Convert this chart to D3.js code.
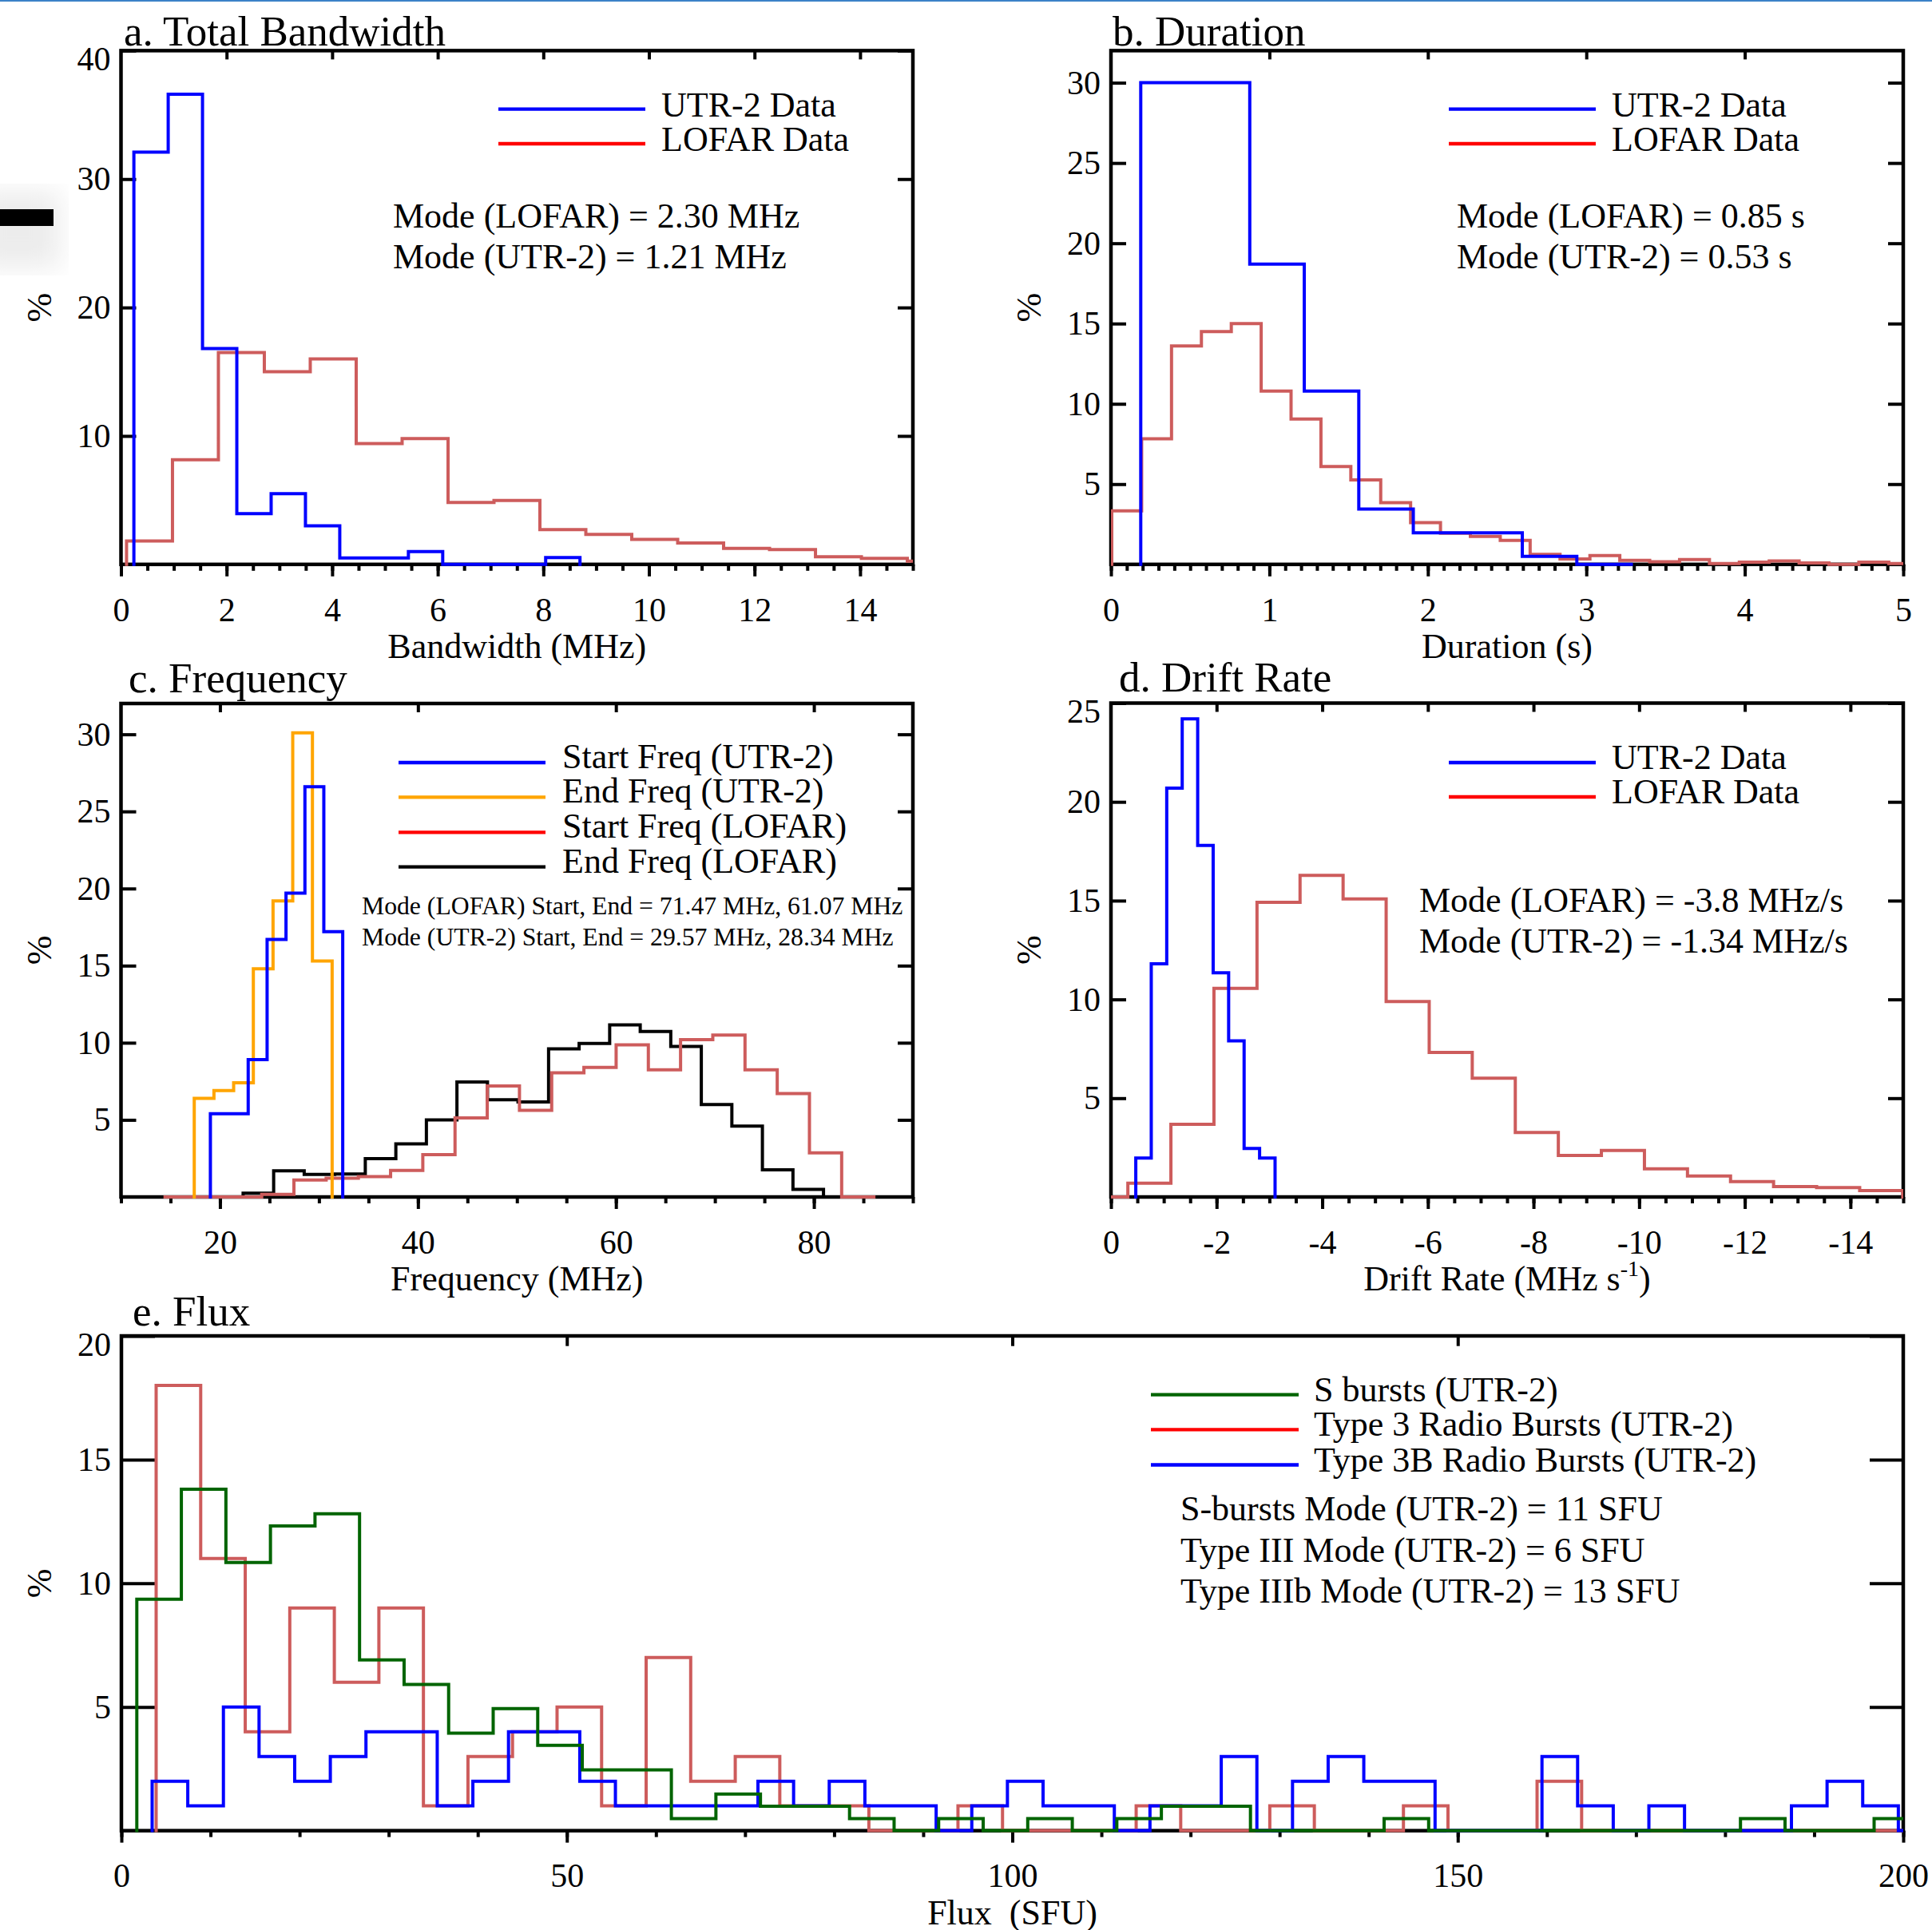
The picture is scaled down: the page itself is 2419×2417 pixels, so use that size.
<!DOCTYPE html>
<html>
<head>
<meta charset="utf-8">
<script src="https://cdn.jsdelivr.net/npm/d3@7"></script>
<style>
body { margin: 0; background: #fff; }
svg text { font-family: "Liberation Serif", "Times New Roman", serif; fill: #000; }
</style>
</head>
<body>
<svg id="chart" width="2419" height="2417"></svg>
<script>
// ---- a. Total Bandwidth (MHz) ----
const bwUtrStart = 0.244, bwUtrWidth = 0.65;
const bwUtr = [32.1, 36.6, 16.8, 3.95, 5.5, 3.0, 0.5, 0.5, 1.0, 0, 0, 0, 0.53];
const bwLofarStart = 0.105, bwLofarWidth = 0.87;
const bwLofar = [1.82, 8.15, 16.5, 15.0, 16.0, 9.4, 9.8, 4.82, 4.98, 2.7, 2.33, 1.94, 1.67, 1.25, 1.15, 0.59, 0.47, 0.25];
const bwXTicks = [0, 2, 4, 6, 8, 10, 12, 14];
const bwYTicks = [10, 20, 30, 40];

// ---- b. Duration (s) ----
const durUtrStart = 0.188, durUtrWidth = 0.344;
const durUtr = [30.0, 30.0, 18.7, 10.8, 3.45, 1.97, 1.97, 0.5, 0];
const durLofarStart = 0.005, durLofarWidth = 0.1886;
const durLofar = [3.33, 7.82, 13.6, 14.5, 15.0, 10.8, 9.05, 6.1, 5.26, 3.84, 2.6, 1.94, 1.74, 1.49, 0.63,
  0.34, 0.55, 0.25, 0.17, 0.3, 0.05, 0.14, 0.22, 0.09, 0.0, 0.14, 0.05];
const durXTicks = [0, 1, 2, 3, 4, 5];
const durYTicks = [5, 10, 15, 20, 25, 30];

// ---- c. Frequency (MHz) ----
const fqUtrStartStart = 19.03, fqUtrStartWidth = 1.91;
const fqUtrStart = [5.4, 5.4, 8.9, 16.7, 19.7, 26.6, 17.2];
const fqUtrEndStart = 17.4, fqUtrEndWidth = 1.99;
const fqUtrEnd = [6.4, 6.9, 7.4, 14.8, 19.2, 30.1, 15.3];
const fqLofarStartStart = 14.45, fqLofarStartWidth = 3.255;
const fqLofarStart = [0, 0, 0, 0.17, 1.1, 1.22, 1.32, 1.72, 2.75, 5.13, 7.2, 5.62, 8.05, 8.4, 9.86,
  8.24, 10.2, 10.5, 8.24, 6.7, 2.86, 0];
const fqLofarEndStart = 19.25, fqLofarEndWidth = 3.086;
const fqLofarEnd = [0, 0.24, 1.7, 1.46, 1.49, 2.48, 3.44, 5.0, 7.46, 6.3, 6.16, 9.6, 9.95, 11.16, 10.73,
  9.76, 6.0, 4.6, 1.76, 0.49];
const fqXTicks = [20, 40, 60, 80];
const fqYTicks = [5, 10, 15, 20, 25, 30];

// ---- d. Drift Rate (MHz/s) ----
const drUtrStart = -0.47, drUtrWidth = -0.293;
const drUtr = [1.97, 11.8, 20.7, 24.2, 17.8, 11.35, 7.9, 2.46, 1.97];
const drLofarStart = 0.495, drLofarWidth = -0.815;
const drLofar = [0, 0.7, 3.68, 10.56, 14.92, 16.28, 15.09, 9.89, 7.32, 6.01, 3.26, 2.1, 2.35, 1.42,
  1.06, 0.78, 0.53, 0.47, 0.32];
const drXTicks = [0, -2, -4, -6, -8, -10, -12, -14];
const drYTicks = [5, 10, 15, 20, 25];

// ---- e. Flux (SFU) ----
const fxSStart = 1.73, fxSWidth = 5;
const fxS = [9.36, 13.8, 10.84, 12.32, 12.81, 6.9, 5.91, 3.94, 4.93, 3.45, 2.46, 2.46, 0.49, 1.48,
  0.99, 0.99, 0.49, 0, 0.49, 0, 0.49, 0, 0.49, 0.99, 0.99, 0, 0, 0, 0.49, 0, 0, 0, 0, 0, 0, 0,
  0.49, 0, 0, 0.49];
const fxT3Start = 3.9, fxT3Width = 5;
const fxT3 = [18, 11, 4, 9, 6, 9, 1, 3, 4, 5, 1, 7, 2, 3, 1, 1, 0, 0, 1, 0, 0, 0, 1, 0, 0, 1, 0, 0,
  1, 0, 0, 2, 0, 0, 0, 0, 0, 0, 0, 0];
const fxT3bStart = 3.45, fxT3bWidth = 4;
const fxT3b = [2, 1, 5, 3, 2, 3, 4, 4, 1, 2, 4, 4, 2, 1, 1, 1, 1, 2, 1, 2, 1, 1, 0, 1, 2, 1, 1, 0, 1,
  1, 3, 0, 2, 3, 2, 2, 0, 0, 0, 3, 1, 0, 1, 0, 0, 0, 1, 2, 1, 0];
const fxXTicks = [0, 50, 100, 150, 200];
const fxYTicks = [5, 10, 15, 20];

const BLUE = "#0000ff", LRED = "#cd5c5c", RED = "#ff0000", ORANGE = "#ffa500", GREEN = "#006400";
const TXT = 44;

const svg = d3.select("#chart");
svg.append("rect").attr("width", 2419).attr("height", 2417).attr("fill", "#fff");

// scanning artefacts of the reference
const defs = svg.append("defs");
defs.append("filter").attr("id", "soft").append("feGaussianBlur").attr("stdDeviation", 16);
svg.append("rect").attr("x", -30).attr("y", 240).attr("width", 105).attr("height", 95)
  .attr("fill", "#ececec").attr("filter", "url(#soft)");
svg.append("rect").attr("x", 0).attr("y", 262).attr("width", 67).attr("height", 21).attr("fill", "#000");
svg.append("rect").attr("x", 0).attr("y", 0).attr("width", 2419).attr("height", 2).attr("fill", "#3b82c8");

function histPoints(start, width, values) {
  const pts = [[start, 0]];
  values.forEach((v, i) => {
    pts.push([start + i * width, v]);
    pts.push([start + (i + 1) * width, v]);
  });
  pts.push([start + values.length * width, 0]);
  return pts;
}

function drawPanel(p) {
  const x = d3.scaleLinear().domain(p.xDomain).range([p.left, p.right]);
  const y = d3.scaleLinear().domain([0, p.yMax]).range([p.bottom, p.top]);
  const g = svg.append("g");
  const font = '"Liberation Serif", "Times New Roman", serif';

  const styleAxis = (sel) => {
    sel.select(".domain").remove();
    sel.attr("font-size", 42).attr("font-family", font);
    sel.selectAll("line").attr("stroke", "#000").attr("stroke-width", 4);
    sel.selectAll("text").attr("fill", "#000");
  };

  // left
  g.append("g").attr("transform", `translate(${p.left},0)`)
    .call(d3.axisLeft(y).tickValues(p.yTicks).tickSize(-p.yTickLen).tickPadding(13).tickFormat(d => String(d)))
    .call(styleAxis)
    .selectAll("text").attr("transform", d => d === p.yMax ? "translate(0,11)" : null);
  // right
  g.append("g").attr("transform", `translate(${p.right},0)`)
    .call(d3.axisRight(y).tickValues(p.yTicks).tickSize(-p.yTickLen).tickFormat(""))
    .call(styleAxis);
  // bottom minor
  g.append("g").attr("transform", `translate(0,${p.bottom})`)
    .call(d3.axisBottom(x).tickValues(p.xMinor).tickSize(8).tickFormat(""))
    .call(styleAxis);
  // bottom major
  g.append("g").attr("transform", `translate(0,${p.bottom})`)
    .call(d3.axisBottom(x).tickValues(p.xTicks).tickSize(15).tickPadding(26).tickFormat(d => String(d)))
    .call(styleAxis);
  // top
  g.append("g").attr("transform", `translate(0,${p.top})`)
    .call(d3.axisTop(x).tickValues(p.xTop).tickSize(-p.topTickLen).tickFormat(""))
    .call(styleAxis);

  g.append("rect")
    .attr("x", p.left).attr("y", p.top)
    .attr("width", p.right - p.left).attr("height", p.bottom - p.top)
    .attr("fill", "none").attr("stroke", "#000").attr("stroke-width", 4.5);

  // histograms
  const clipId = "clip-" + p.id;
  defs.append("clipPath").attr("id", clipId).append("rect")
    .attr("x", p.left).attr("y", p.top - 3)
    .attr("width", p.right - p.left).attr("height", p.bottom - p.top + 6);
  const line = d3.line().x(d => x(d[0])).y(d => y(d[1]));
  const hg = g.append("g").attr("clip-path", `url(#${clipId})`);
  p.series.forEach(s => {
    hg.append("path")
      .attr("d", line(histPoints(s.start, s.width, s.values)))
      .attr("fill", "none").attr("stroke", s.color).attr("stroke-width", 4)
      .attr("stroke-linejoin", "miter").attr("stroke-linecap", "square");
  });

  // titles and labels
  g.append("text").attr("x", p.titleX).attr("y", p.titleY).attr("font-size", 53).text(p.title);
  const xl = g.append("text").attr("x", (p.left + p.right) / 2).attr("y", p.bottom + 117)
    .attr("text-anchor", "middle").attr("font-size", TXT).style("white-space", "pre");
  if (p.xLabelSup) {
    xl.append("tspan").text(p.xLabel);
    xl.append("tspan").attr("font-size", 28).attr("dy", -18).text(p.xLabelSup);
    xl.append("tspan").attr("dy", 18).text(")");
  } else {
    xl.text(p.xLabel);
  }
  g.append("text")
    .attr("transform", `translate(${p.yLabelX},${(p.top + p.bottom) / 2}) rotate(-90)`)
    .attr("text-anchor", "middle").attr("font-size", TXT).text("%");

  // legend
  p.legend.forEach((l, i) => {
    g.append("line").attr("x1", p.legX1).attr("x2", p.legX2)
      .attr("y1", p.legY[i]).attr("y2", p.legY[i])
      .attr("stroke", l.color).attr("stroke-width", 4.3);
    g.append("text").attr("x", p.legTextX).attr("y", p.legY[i] + p.legDy)
      .attr("font-size", TXT).text(l.label);
  });
  p.notes.forEach((t, i) => {
    g.append("text").attr("x", p.noteX).attr("y", p.noteY[i])
      .attr("font-size", p.noteSize).text(t);
  });
}

const panels = [
  {
    id: "a", left: 151.5, right: 1143, top: 63.4, bottom: 706.8,
    xDomain: [0, 15], yMax: 40, xTicks: bwXTicks, xMinor: d3.range(0, 15.01, 0.5), xTop: bwXTicks.slice(1),
    yTicks: bwYTicks, yTickLen: 19, topTickLen: 11,
    title: "a. Total Bandwidth", titleX: 155, titleY: 57, xLabel: "Bandwidth (MHz)", yLabelX: 64,
    series: [
      { start: bwLofarStart, width: bwLofarWidth, values: bwLofar, color: LRED },
      { start: bwUtrStart, width: bwUtrWidth, values: bwUtr, color: BLUE }
    ],
    legend: [{ label: "UTR-2 Data", color: BLUE }, { label: "LOFAR Data", color: RED }],
    legX1: 624, legX2: 808, legTextX: 828, legY: [136.6, 180], legDy: 9,
    notes: ["Mode (LOFAR) = 2.30 MHz", "Mode (UTR-2) = 1.21 MHz"], noteX: 492, noteY: [285, 336], noteSize: TXT
  },
  {
    id: "b", left: 1391, right: 2383, top: 63.4, bottom: 706.8,
    xDomain: [0, 5], yMax: 32, xTicks: durXTicks, xMinor: d3.range(0, 5.001, 0.1), xTop: [1, 2, 3, 4],
    yTicks: durYTicks, yTickLen: 19, topTickLen: 11,
    title: "b. Duration", titleX: 1393, titleY: 57, xLabel: "Duration (s)", yLabelX: 1303,
    series: [
      { start: durLofarStart, width: durLofarWidth, values: durLofar, color: LRED },
      { start: durUtrStart, width: durUtrWidth, values: durUtr, color: BLUE }
    ],
    legend: [{ label: "UTR-2 Data", color: BLUE }, { label: "LOFAR Data", color: RED }],
    legX1: 1814, legX2: 1998, legTextX: 2018, legY: [136.6, 180], legDy: 9,
    notes: ["Mode (LOFAR) = 0.85 s", "Mode (UTR-2) = 0.53 s"], noteX: 1824, noteY: [285, 336], noteSize: TXT
  },
  {
    id: "c", left: 151.5, right: 1143, top: 881, bottom: 1499,
    xDomain: [10, 90], yMax: 32, xTicks: fqXTicks, xMinor: d3.range(10, 90.01, 5), xTop: fqXTicks,
    yTicks: fqYTicks, yTickLen: 19, topTickLen: 11,
    title: "c. Frequency", titleX: 161, titleY: 867, xLabel: "Frequency (MHz)", yLabelX: 64,
    series: [
      { start: fqLofarEndStart, width: fqLofarEndWidth, values: fqLofarEnd, color: "#000" },
      { start: fqLofarStartStart, width: fqLofarStartWidth, values: fqLofarStart, color: LRED },
      { start: fqUtrEndStart, width: fqUtrEndWidth, values: fqUtrEnd, color: ORANGE },
      { start: fqUtrStartStart, width: fqUtrStartWidth, values: fqUtrStart, color: BLUE }
    ],
    legend: [
      { label: "Start Freq (UTR-2)", color: BLUE }, { label: "End Freq (UTR-2)", color: ORANGE },
      { label: "Start Freq (LOFAR)", color: RED }, { label: "End Freq (LOFAR)", color: "#000" }
    ],
    legX1: 499, legX2: 683, legTextX: 704, legY: [955, 998.3, 1042.3, 1085.7], legDy: 7,
    notes: ["Mode (LOFAR) Start, End = 71.47 MHz, 61.07 MHz", "Mode (UTR-2) Start, End = 29.57 MHz, 28.34 MHz"],
    noteX: 453, noteY: [1145, 1184], noteSize: 31.7
  },
  {
    id: "d", left: 1391, right: 2383, top: 880.5, bottom: 1499,
    xDomain: [0, -15], yMax: 25, xTicks: drXTicks, xMinor: d3.range(0, -15.01, -0.5), xTop: drXTicks.slice(1),
    yTicks: drYTicks, yTickLen: 19, topTickLen: 11,
    title: "d. Drift Rate", titleX: 1401, titleY: 866, xLabel: "Drift Rate (MHz s", xLabelSup: "-1", yLabelX: 1303,
    series: [
      { start: drLofarStart, width: drLofarWidth, values: drLofar, color: LRED },
      { start: drUtrStart, width: drUtrWidth, values: drUtr, color: BLUE }
    ],
    legend: [{ label: "UTR-2 Data", color: BLUE }, { label: "LOFAR Data", color: RED }],
    legX1: 1814, legX2: 1998, legTextX: 2018, legY: [955, 998], legDy: 7.5,
    notes: ["Mode (LOFAR) = -3.8 MHz/s", "Mode (UTR-2) = -1.34 MHz/s"], noteX: 1777, noteY: [1142, 1193], noteSize: TXT
  },
  {
    id: "e", left: 152, right: 2383, top: 1673, bottom: 2292.6,
    xDomain: [0, 200], yMax: 20, xTicks: fxXTicks, xMinor: d3.range(0, 200.01, 10), xTop: [50, 100, 150],
    yTicks: fxYTicks, yTickLen: 42, topTickLen: 12.7,
    title: "e. Flux", titleX: 166, titleY: 1660, xLabel: "Flux  (SFU)", yLabelX: 64,
    series: [
      { start: fxT3Start, width: fxT3Width, values: fxT3, color: LRED },
      { start: fxT3bStart, width: fxT3bWidth, values: fxT3b, color: BLUE },
      { start: fxSStart, width: fxSWidth, values: fxS, color: GREEN }
    ],
    legend: [
      { label: "S bursts (UTR-2)", color: GREEN }, { label: "Type 3 Radio Bursts (UTR-2)", color: RED },
      { label: "Type 3B Radio Bursts (UTR-2)", color: BLUE }
    ],
    legX1: 1441, legX2: 1626, legTextX: 1645, legY: [1746.6, 1790.3, 1834.5], legDy: 8,
    notes: ["S-bursts Mode (UTR-2) = 11 SFU", "Type III Mode (UTR-2) = 6 SFU", "Type IIIb Mode (UTR-2) = 13 SFU"],
    noteX: 1478, noteY: [1904, 1955.5, 2006.5], noteSize: TXT
  }
];

panels.forEach(drawPanel);
</script>
</body>
</html>
